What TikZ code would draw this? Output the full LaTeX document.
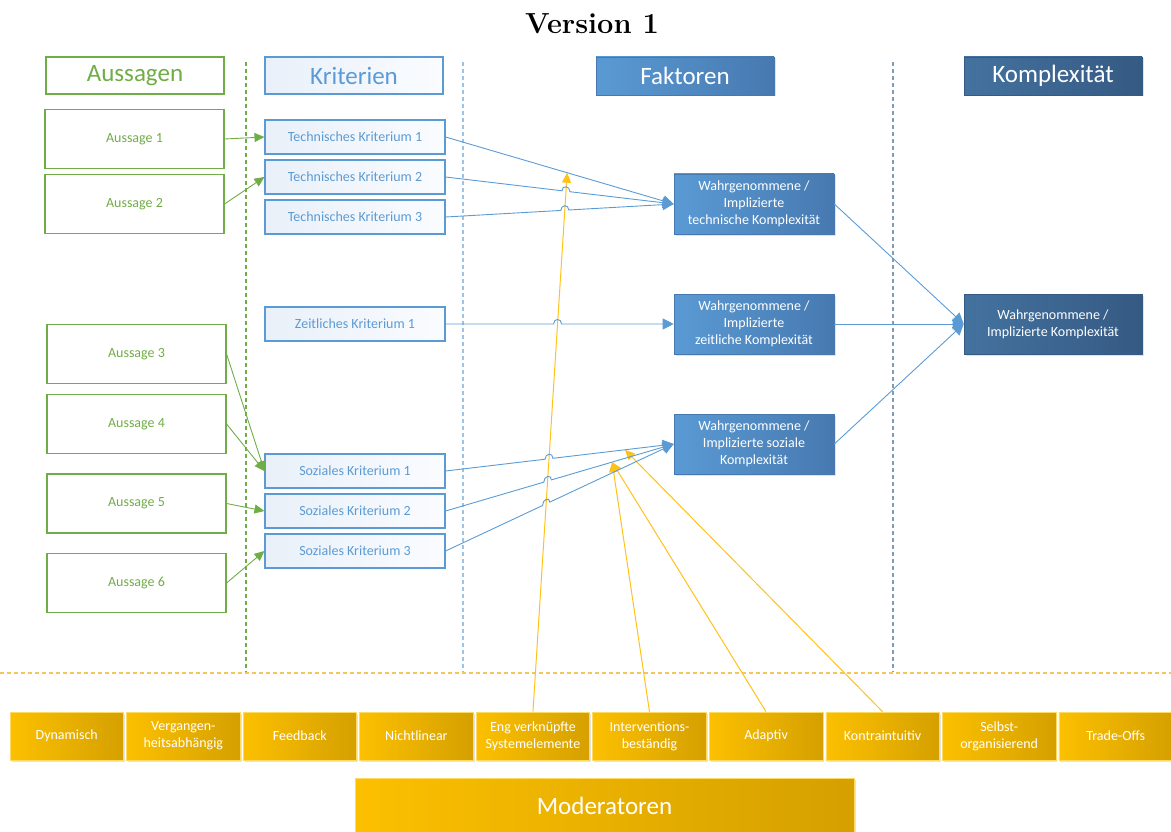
\documentclass[tikz,border=0pt]{standalone}
\usepackage{fontspec}
\setsansfont{Carlito}
\usetikzlibrary{arrows.meta,calc,intersections,shadows}

\definecolor{grn}{HTML}{70AD47}
\definecolor{bluetx}{HTML}{5B9BD5}
\definecolor{blueln}{HTML}{5B9BD5}
\definecolor{critA}{HTML}{E9F0F9}
\definecolor{critB}{HTML}{FAFCFF}
\definecolor{facA}{HTML}{5A9AD4}
\definecolor{facB}{HTML}{4779B0}
\definecolor{cmpA}{HTML}{44729F}
\definecolor{cmpB}{HTML}{355A83}
\definecolor{modA}{HTML}{FCC000}
\definecolor{modB}{HTML}{D5A000}
\definecolor{modln}{HTML}{FFC21A}
\definecolor{dashorange}{HTML}{F7C35B}
\definecolor{dashblue}{HTML}{9DC3E6}
\definecolor{dashgray}{HTML}{7F9CB8}

\tikzset{
  small/.style={font=\sffamily\fontsize{14}{16.8}\selectfont},
  big/.style={font=\sffamily\fontsize{25}{29}\selectfont},
  softshadow/.style={drop shadow={opacity=0.22, shadow xshift=1.5pt, shadow yshift=-1.5pt}},
  headgreen/.style={big, draw=grn, line width=1.1pt, fill=white, text=grn,
    minimum width=178pt, minimum height=37pt, inner sep=0pt},
  headcrit/.style={big, draw=blueln, line width=1.1pt, left color=critA, right color=critB,
    text=bluetx, minimum width=178pt, minimum height=37pt, inner sep=0pt},
  headfac/.style={big, softshadow, draw=facB, line width=0.6pt, left color=facA, right color=facB,
    text=white, minimum width=178pt, minimum height=38pt, inner sep=0pt},
  headcmp/.style={big, softshadow, draw=cmpB, line width=0.6pt, left color=cmpA, right color=cmpB,
    text=white, minimum width=178pt, minimum height=38pt, inner sep=0pt},
  aussage/.style={small, draw=grn, line width=1.1pt, fill=white, text=grn,
    minimum width=179pt, minimum height=59pt, inner sep=0pt},
  crit/.style={small, draw=blueln, line width=1.1pt, left color=critA, right color=critB,
    text=bluetx, minimum width=180pt, minimum height=34pt, inner sep=0pt},
  factor/.style={small, softshadow, draw=facB, line width=0.6pt, left color=facA, right color=facB,
    text=white, minimum width=160pt, minimum height=60pt, inner sep=0pt, align=center},
  result/.style={small, softshadow, draw=cmpB, line width=0.6pt, left color=cmpA, right color=cmpB,
    text=white, minimum width=178pt, minimum height=60pt, inner sep=0pt, align=center},
  modbox/.style={small, softshadow, draw=modA!60!white, line width=0.6pt, left color=modA, right color=modB,
    text=white, minimum width=113.5pt, minimum height=48pt, inner sep=0pt, align=center},
  modhead/.style={big, softshadow, draw=modA!60!white, line width=0.6pt, left color=modA, right color=modB,
    text=white, minimum width=499pt, minimum height=56pt, inner sep=0pt},
  greenarrow/.style={draw=grn, line width=0.9pt, -{Triangle[length=10pt,width=9pt]}},
  bluearrow/.style={draw=blueln, line width=0.9pt, -{Triangle[length=11pt,width=11pt]}},
  yellowarrow/.style={draw=modln, line width=1pt, -{Triangle[length=10pt,width=9pt]}},
  sepdash/.style={line width=1.3pt, dash pattern=on 4pt off 3pt},
}

% blue connector that hops over the moderator line
\newcommand{\hopline}[2]{%
  \path[name path=hp] (#1) -- (#2);
  \path[name intersections={of=modpath and hp, by=hx}];
  \draw[bluearrow] (#1) -- ($(hx)!4pt!(#1)$)
     .. controls +(0,-6) and +(0,-6) .. ($(hx)!4pt!(#2)$) -- (#2);
}

\begin{document}
\begin{tikzpicture}[x=1pt,y=-1pt]
\useasboundingbox (0,0) rectangle (1171,832);
\clip (0,0) rectangle (1171,832);

% title
\node (title) at (592,24) {\rmfamily\bfseries\fontsize{29}{34}\selectfont Version 1};

% column separators
\draw[sepdash, grn] (246,62) -- (246,672);
\draw[sepdash, dashblue] (463,62) -- (463,672);
\draw[sepdash, dashgray] (893,62) -- (893,672);
\draw[line width=1.2pt, dash pattern=on 4pt off 3pt, dashorange] (0,673) -- (1171,673);

% column headers
\node[headgreen] (hAus) at (135,75.5) {Aussagen};
\node[headcrit] (hKrit) at (354,75.5) {Kriterien};
\node[headfac] (hFak) at (685,76) {Faktoren};
\node[headcmp] (hKom) at (1053,76) {Komplexität};

% statements
\node[aussage] (a1) at (134.5,139) {Aussage 1};
\node[aussage] (a2) at (134.5,204) {Aussage 2};
\node[aussage] (a3) at (136.5,354) {Aussage 3};
\node[aussage] (a4) at (136.5,424) {Aussage 4};
\node[aussage] (a5) at (136.5,503.5) {Aussage 5};
\node[aussage] (a6) at (136.5,583) {Aussage 6};

% criteria
\node[crit] (tk1) at (355,137) {Technisches Kriterium 1};
\node[crit] (tk2) at (355,177) {Technisches Kriterium 2};
\node[crit] (tk3) at (355,217) {Technisches Kriterium 3};
\node[crit] (zk1) at (355,324) {Zeitliches Kriterium 1};
\node[crit] (sk1) at (355,471) {Soziales Kriterium 1};
\node[crit] (sk2) at (355,511) {Soziales Kriterium 2};
\node[crit] (sk3) at (355,551) {Soziales Kriterium 3};

% factors
\node[factor] (f1) at (754,204) {Wahrgenommene /\\Implizierte\\technische Komplexität};
\node[factor] (f2) at (754,324) {Wahrgenommene /\\Implizierte\\zeitliche Komplexität};
\node[factor] (f3) at (754,444) {Wahrgenommene /\\Implizierte soziale\\Komplexität};

% overall complexity
\node[result] (kom) at (1053,324) {Wahrgenommene /\\Implizierte Komplexität};

% moderators
\node[modbox] (m1) at (66.75,736) {Dynamisch};
\node[modbox] (m2) at (183.3,736) {Vergangen-\\heitsabhängig};
\node[modbox] (m3) at (299.85,736) {Feedback};
\node[modbox] (m4) at (416.4,736) {Nichtlinear};
\node[modbox] (m5) at (532.95,736) {Eng verknüpfte\\Systemelemente};
\node[modbox] (m6) at (649.5,736) {Interventions-\\beständig};
\node[modbox] (m7) at (766.05,736) {Adaptiv};
\node[modbox] (m8) at (882.6,736) {Kontraintuitiv};
\node[modbox] (m9) at (999.15,736) {Selbst-\\organisierend};
\node[modbox] (m10) at (1115.7,736) {Trade-Offs};
\node[modhead] (mod) at (604.5,806) {Moderatoren};

% points where moderators act on criterion links
\coordinate (t1) at ($(tk1.east)!0.533!(f1.west)$);
\coordinate (t2) at ($(sk2.east)!0.73!(f3.west)$);
\coordinate (t3) at ($(sk1.east)!0.786!(f3.west)$);

% moderator influences
\draw[yellowarrow, name path=modpath] (m5.north) -- (t1);
\draw[yellowarrow] (m6.north) -- (t2);
\draw[yellowarrow] (m7.north) -- (t2);
\draw[yellowarrow] (m8.north) -- (t3);

% statements -> criteria
\draw[greenarrow] (a1.east) -- (tk1.west);
\draw[greenarrow] (a2.east) -- (tk2.west);
\draw[greenarrow] (a3.east) -- (sk1.west);
\draw[greenarrow] (a4.east) -- (sk1.west);
\draw[greenarrow] (a5.east) -- (sk2.west);
\draw[greenarrow] (a6.east) -- (sk3.west);

% criteria -> factors
\draw[bluearrow] (tk1.east) -- (f1.west);
\hopline{tk2.east}{f1.west}
\hopline{tk3.east}{f1.west}
\hopline{zk1.east}{f2.west}
\hopline{sk1.east}{f3.west}
\hopline{sk2.east}{f3.west}
\hopline{sk3.east}{f3.west}

% factors -> complexity
\draw[bluearrow] (f1.east) -- (kom.west);
\draw[bluearrow] (f2.east) -- (kom.west);
\draw[bluearrow] (f3.east) -- (kom.west);
\end{tikzpicture}
\end{document}
